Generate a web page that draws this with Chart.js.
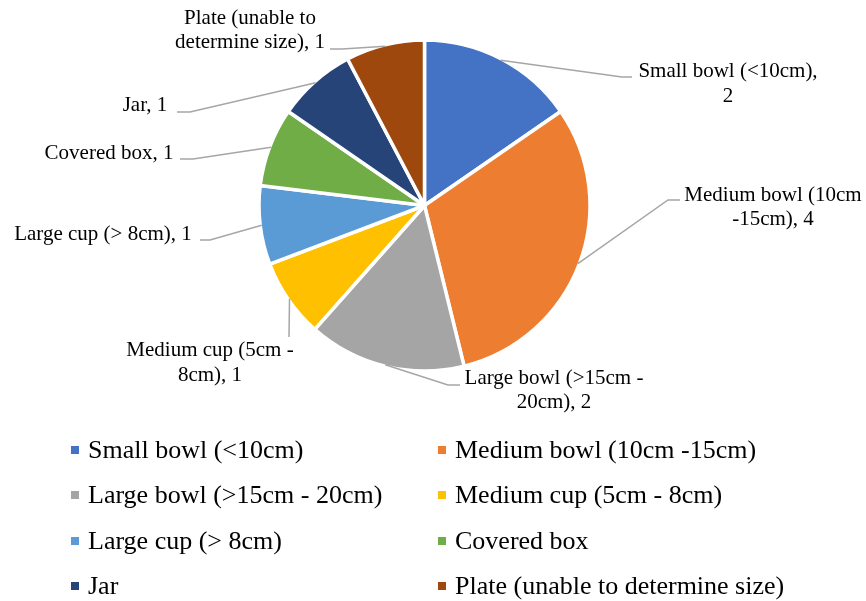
<!DOCTYPE html>
<html>
<head>
<meta charset="utf-8">
<script src="https://cdn.jsdelivr.net/npm/chart.js@4/dist/chart.umd.min.js"></script>
<style>
  body { margin: 0; background: #fff; }
  #wrap { position: relative; width: 866px; height: 601px; }
  #pie { position: absolute; left: 0; top: 0; }
  .leg { position: absolute; font-family: "Liberation Serif", "Times New Roman", serif; font-size: 26px; color: #000; white-space: nowrap; line-height: 30px; }
  .leg i { position: absolute; left: 0; top: 11px; width: 8px; height: 8px; }
  .leg span { position: absolute; left: 17px; top: 0; }
</style>
</head>
<body>
<div id="wrap">
  <canvas id="pie" width="866" height="601"></canvas>
</div>
<script>
var categories = ["Small bowl (<10cm)", "Medium bowl (10cm -15cm)", "Large bowl (>15cm - 20cm)",
    "Medium cup (5cm - 8cm)", "Large cup (> 8cm)", "Covered box", "Jar", "Plate (unable to determine size)"];
var counts = [2, 4, 2, 1, 1, 1, 1, 1];
var colors = ["#4472C4", "#ED7D31", "#A5A5A5", "#FFC000", "#5B9BD5", "#70AD47", "#264478", "#9E480E"];

// where Excel put each data label (centre of the text block) and its leader elbow/end
var labelX = [728, 773, 554, 210, 103, 109, 145, 250];
var labelY = [84, 207.5, 390.5, 363, 234, 153, 105, 30.5];
var elbows = [[622, 77], [668, 200], [448, 385], [289, 337], [210, 240], [193, 159], [190, 112], [342, 49]];
var ends = [[632, 77], [680, 200], [460, 385], [289, 337], [200, 240], [180, 159], [177, 112], [330, 49]];

var labelFont = '21px "Liberation Serif", "Times New Roman", serif';

var wrapText = function (ctx, text, width) {
    var words = text.split(' ');
    var lines = [];
    var cur = '';
    words.forEach(function (w) {
        var test = cur ? cur + ' ' + w : w;
        if (cur && ctx.measureText(test).width > width) {
            lines.push(cur);
            cur = w;
        } else {
            cur = test;
        }
    });
    if (cur) lines.push(cur);
    return lines;
}

var leaderLabels = {
    id: 'leaderLabels',
    afterDatasetsDraw: function (chart) {
        var ctx = chart.ctx;
        var meta = chart.getDatasetMeta(0);
        ctx.save();
        ctx.font = labelFont;
        meta.data.forEach(function (arc, i) {
            var p = arc.getProps(['x', 'y', 'startAngle', 'endAngle', 'outerRadius'], true);
            var mid = (p.startAngle + p.endAngle) / 2;
            var r = p.outerRadius - 1.5;
            var sx = p.x + Math.cos(mid) * r;
            var sy = p.y + Math.sin(mid) * r;

            ctx.strokeStyle = '#a6a6a6';
            ctx.lineWidth = 1.5;
            ctx.beginPath();
            ctx.moveTo(sx, sy);
            ctx.lineTo(elbows[i][0], elbows[i][1]);
            ctx.lineTo(ends[i][0], ends[i][1]);
            ctx.stroke();

            var lines = wrapText(ctx, chart.data.labels[i] + ', ' + counts[i], 185);
            var lh = 24.5;
            var y0 = labelY[i] - (lines.length - 1) * lh / 2;
            ctx.fillStyle = '#000';
            ctx.textAlign = 'center';
            ctx.textBaseline = 'middle';
            lines.forEach(function (ln, k) {
                ctx.fillText(ln, labelX[i], y0 + k * lh);
            });
        });
        ctx.restore();
    }
}

new Chart("pie", {
    type: "pie",
    data: {
        labels: categories,
        datasets: [{
            data: counts,
            backgroundColor: colors,
            borderColor: "#ffffff",
            borderWidth: 3.5,
            radius: 165.5
        }]
    },
    options: {
        responsive: false,
        animation: false,
        layout: { padding: { top: 20, bottom: 210, left: 0, right: 17 } },
        plugins: {
            legend: { display: false },
            tooltip: { enabled: false }
        }
    },
    plugins: [leaderLabels]
})

// legend: two columns, four rows
var wrap = document.getElementById('wrap');
categories.forEach(function (c, i) {
    var d = document.createElement('div');
    d.className = 'leg';
    d.style.left = (71 + (i % 2) * 367) + 'px';
    d.style.top = (435 + Math.floor(i / 2) * 45.3) + 'px';
    var sq = document.createElement('i');
    sq.style.background = colors[i];
    var t = document.createElement('span');
    t.textContent = c;
    d.appendChild(sq);
    d.appendChild(t);
    wrap.appendChild(d);
});
</script>
</body>
</html>
